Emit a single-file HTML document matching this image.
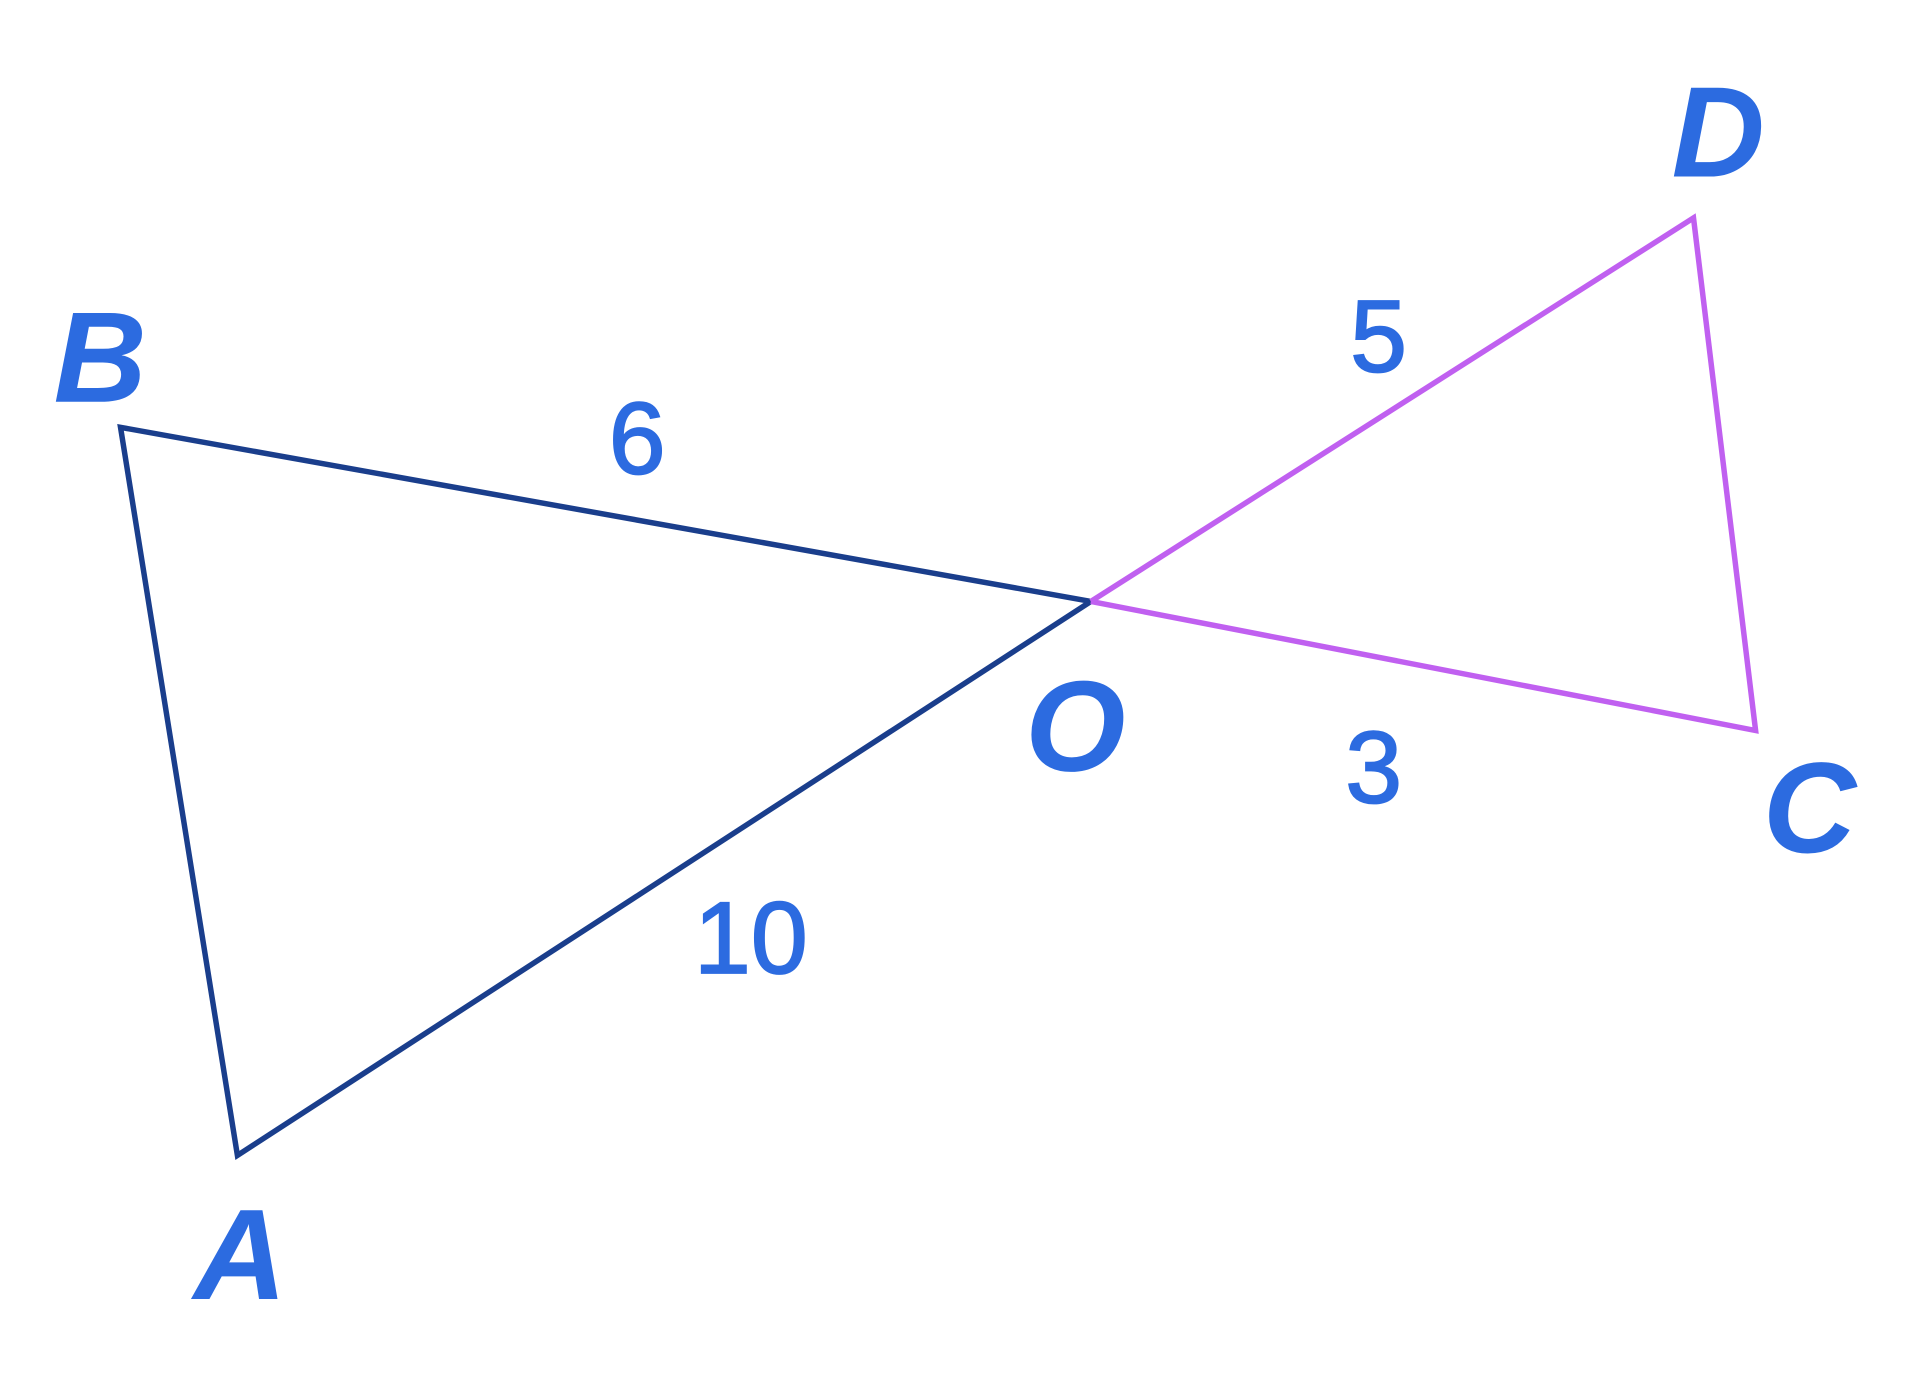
<!DOCTYPE html>
<html><head><meta charset="utf-8"><style>html,body{margin:0;padding:0;background:#fff}svg{display:block}</style></head>
<body>
<svg width="1909" height="1377" viewBox="0 0 1568 1131" xmlns="http://www.w3.org/2000/svg">
<rect width="1568" height="1131" fill="#fff"/>
<polyline points="896,494 99,351 195,949 896,494" fill="none" stroke="#1a3e8c" stroke-width="4.5"/>
<polyline points="896,494 1391,179 1442,600 896,494" fill="none" stroke="#c060f0" stroke-width="4.5"/>
<g font-family="Liberation Sans, sans-serif" font-weight="bold" font-style="italic" font-size="106" fill="#2c6be0">
<text x="44" y="330">B</text>
<text x="159" y="1067">A</text>
<text x="842" y="633">O</text>
<text x="1448" y="700">C</text>
<text x="1373" y="145">D</text>
</g>
<g font-family="Liberation Sans, sans-serif" font-size="84" fill="#2c6be0" stroke="#2c6be0" stroke-width="1.5">
<text x="500" y="389">6</text>
<text x="1109" y="305">5</text>
<text x="1105" y="659">3</text>
<text x="570" y="799">10</text>
</g>
</svg>
</body></html>
